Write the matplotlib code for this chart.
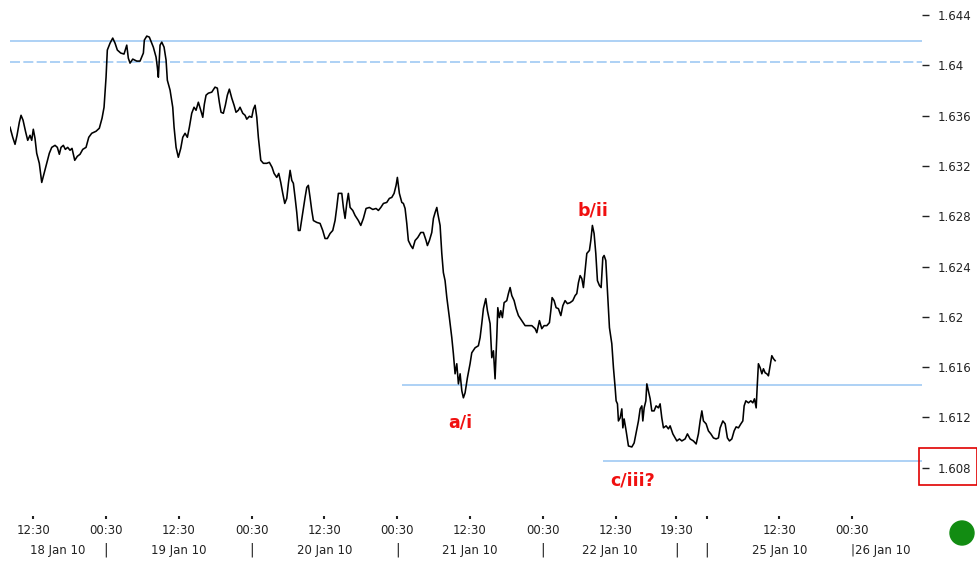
import matplotlib.pyplot as plt
import matplotlib.transforms as mtransforms
from matplotlib.patches import Rectangle, Ellipse

# --- data: hours on a gapless trading clock (18 Jan 00:00 = 0, weekend removed) ---
hours = [
    8.70, 9.15, 9.53, 9.86, 10.24, 10.52, 10.85, 11.29, 11.62, 12.00,
    12.28, 12.54, 12.82, 13.10, 13.53, 13.93, 14.31, 14.75, 15.18, 15.58,
    16.12, 16.50, 16.83, 17.11, 17.49, 17.82, 18.21, 18.59, 18.92, 19.37,
    19.80, 20.24, 20.69, 21.23, 21.68, 22.17, 22.88, 23.42, 23.87, 24.20,
    24.53, 24.74, 25.19, 25.63, 26.01, 26.39, 26.95, 27.49, 27.94, 28.20,
    28.48, 28.93, 29.59, 30.13, 30.68, 30.84, 31.24, 31.66,
    32.32, 32.77, 32.98, 33.15, 33.43, 33.71, 34.09, 34.42, 34.63, 35.08,
    35.52, 35.74, 36.07, 36.44, 36.84, 37.17, 37.55, 37.93, 38.26, 38.65,
    39.03, 39.36, 39.74, 40.14, 40.47, 40.73, 41.01, 41.39, 41.95, 42.49,
    42.87, 43.20, 43.48, 43.86, 44.19, 44.52, 44.85, 45.25, 45.63, 45.95,
    46.33, 46.61, 47.06, 47.44, 47.72, 48.15, 48.54, 48.81, 49.09, 49.37,
    49.63, 50.03, 50.46, 51.01, 51.44, 51.89, 52.22, 52.66, 52.99, 53.32,
    53.65, 53.98, 54.31, 54.58, 54.86, 55.14, 55.40, 55.68, 55.96, 56.22,
    56.50, 56.95, 57.33, 57.61, 57.87, 58.15, 58.43, 58.70, 59.26, 59.80,
    60.24, 60.62, 61.00, 61.45, 61.89, 62.27, 62.55, 62.82, 63.38, 63.64,
    63.92, 64.20, 64.46, 64.75, 65.19, 65.57, 66.11, 66.51, 66.94, 67.38,
    67.93, 68.49, 69.03, 69.41, 69.81, 70.24, 70.79, 71.22, 71.62, 72.00,
    72.33, 72.54, 72.87, 73.27, 73.53, 73.81, 74.09, 74.35, 74.75, 75.08,
    75.46, 75.90, 76.40, 76.83, 77.27, 77.49, 77.82, 78.21, 78.48, 78.76,
    79.04, 79.20,
    79.58, 79.86, 80.12, 80.40, 80.69, 81.11, 81.51, 81.77, 82.05, 82.33,
    82.60, 82.88, 83.16, 83.42, 83.70, 84.08, 84.52, 84.80, 85.35, 85.89,
    86.17, 86.45, 86.72, 87.11, 87.38, 87.82, 88.10, 88.37, 88.64, 88.92,
    89.09, 89.35, 89.58, 89.85, 90.13, 90.57, 90.84, 91.12, 91.40, 91.78,
    92.11, 92.49, 93.05, 93.59, 94.14, 94.70, 95.24, 95.52, 95.95, 96.34,
    96.72, 97.17, 97.60, 97.83, 98.04, 98.37, 98.70, 99.08, 99.48, 99.81,
    100.18, 100.56, 101.01, 101.45, 101.83, 102.11, 102.38, 102.66, 102.94, 103.20,
    103.48, 103.76, 104.19, 104.42, 104.68, 104.96, 105.24, 105.51, 105.84, 106.12,
    106.40, 106.61, 106.89, 107.16, 107.49, 107.88, 108.15, 108.43, 108.59,
    108.81, 108.97, 109.25, 109.53, 109.70, 109.91, 110.24, 110.62, 111.18, 111.56,
    111.89, 112.27, 112.55, 112.83, 112.99, 113.21, 113.49, 113.65, 113.91, 114.20,
    114.47, 114.85, 115.18, 115.56, 115.84, 116.12, 116.39, 116.83, 117.21, 117.49,
    117.94, 118.32, 118.60, 119.03, 119.42, 119.96, 120.34, 120.79, 121.33, 121.78,
    122.15, 122.44, 122.72, 122.98, 123.42, 123.80, 124.20, 124.63, 125.07, 125.45,
    125.73, 126.18, 126.56, 126.93, 127.27, 127.66, 128.04, 128.37, 128.75, 129.15,
    129.47, 129.69, 129.97, 130.40, 130.79, 131.12, 131.39, 131.67, 131.83, 132.04,
    132.33, 132.61, 132.87, 133.15, 133.43, 133.69, 133.97, 134.25, 134.52, 134.80,
]

price = [
    1.63508, 1.63428, 1.63372, 1.63444, 1.63548, 1.63603, 1.63564, 1.63468, 1.63404, 1.63444,
    1.63404, 1.63492, 1.63420, 1.63301, 1.63221, 1.63069, 1.63141, 1.63221, 1.63301, 1.63348,
    1.63364, 1.63348, 1.63293, 1.63348, 1.63364, 1.63332, 1.63348, 1.63325, 1.63340, 1.63245,
    1.63277, 1.63293, 1.63332, 1.63348, 1.63428, 1.63460, 1.63476, 1.63500, 1.63580, 1.63667,
    1.63906, 1.64122, 1.64177, 1.64217, 1.64177, 1.64122, 1.64098, 1.64090, 1.64161, 1.64058,
    1.64018, 1.64050, 1.64034, 1.64034, 1.64098, 1.64201, 1.64233, 1.64225,
    1.64145, 1.64066, 1.63986, 1.63906, 1.64161, 1.64185, 1.64145, 1.64042, 1.63882, 1.63803,
    1.63667, 1.63508, 1.63348, 1.63269, 1.63340, 1.63428, 1.63460, 1.63428, 1.63508, 1.63619,
    1.63667, 1.63643, 1.63707, 1.63643, 1.63587, 1.63691, 1.63763, 1.63779, 1.63787, 1.63827,
    1.63819, 1.63707, 1.63627, 1.63619, 1.63683, 1.63763, 1.63811, 1.63739, 1.63683, 1.63627,
    1.63643, 1.63667, 1.63619, 1.63603, 1.63572, 1.63595, 1.63587, 1.63651, 1.63683, 1.63587,
    1.63428, 1.63245, 1.63221, 1.63221, 1.63229, 1.63189, 1.63141, 1.63109, 1.63141, 1.63069,
    1.62982, 1.62902, 1.62942, 1.63062, 1.63165, 1.63085, 1.63062, 1.62950, 1.62830, 1.62687,
    1.62687, 1.62830, 1.62950, 1.63030, 1.63046, 1.62950, 1.62846, 1.62766, 1.62751, 1.62743,
    1.62687, 1.62623, 1.62623, 1.62663, 1.62687, 1.62766, 1.62870, 1.62982, 1.62982, 1.62870,
    1.62783, 1.62902, 1.62982, 1.62870, 1.62846, 1.62806, 1.62766, 1.62727, 1.62783, 1.62862,
    1.62870, 1.62854, 1.62862, 1.62846, 1.62870, 1.62902, 1.62910, 1.62942, 1.62950, 1.62982,
    1.63046, 1.63109, 1.62982, 1.62910, 1.62902, 1.62862, 1.62743, 1.62607, 1.62567, 1.62543,
    1.62607, 1.62631, 1.62671, 1.62671, 1.62607, 1.62567, 1.62607, 1.62671, 1.62783, 1.62830,
    1.62870, 1.62822,
    1.62727, 1.62504, 1.62352, 1.62288, 1.62153, 1.61994, 1.61834, 1.61707, 1.61547, 1.61627,
    1.61467, 1.61547, 1.61412, 1.61356, 1.61396, 1.61515, 1.61627, 1.61714, 1.61754, 1.61770,
    1.61834, 1.61946, 1.62065, 1.62145, 1.62049, 1.61946, 1.61675, 1.61730, 1.61507, 1.61834,
    1.62073, 1.61994, 1.62049, 1.61994, 1.62113, 1.62129, 1.62185, 1.62233, 1.62169, 1.62129,
    1.62065, 1.62010, 1.61970, 1.61930, 1.61930, 1.61930, 1.61906, 1.61874, 1.61970, 1.61906,
    1.61930, 1.61930, 1.61954, 1.62049, 1.62153, 1.62129, 1.62073, 1.62065, 1.62010, 1.62089,
    1.62129, 1.62105, 1.62113, 1.62129, 1.62169, 1.62185, 1.62272, 1.62328, 1.62304, 1.62233,
    1.62368, 1.62504, 1.62528, 1.62607, 1.62727, 1.62663, 1.62504, 1.62288, 1.62249, 1.62233,
    1.62472, 1.62488, 1.62448, 1.62209, 1.61914, 1.61786, 1.61595, 1.61436, 1.61332,
    1.61308, 1.61172, 1.61196, 1.61268, 1.61117, 1.61188, 1.61093, 1.60973, 1.60965, 1.60997,
    1.61077, 1.61172, 1.61268, 1.61292, 1.61172, 1.61276, 1.61332, 1.61467, 1.61412, 1.61348,
    1.61252, 1.61252, 1.61292, 1.61276, 1.61308, 1.61196, 1.61117, 1.61133, 1.61109, 1.61133,
    1.61069, 1.61037, 1.61013, 1.61029, 1.61013, 1.61029, 1.61069, 1.61029, 1.61013, 1.60989,
    1.61069, 1.61172, 1.61252, 1.61172, 1.61149, 1.61093, 1.61069, 1.61037, 1.61029, 1.61037,
    1.61117, 1.61172, 1.61149, 1.61037, 1.61013, 1.61029, 1.61093, 1.61125, 1.61117, 1.61149,
    1.61172, 1.61292, 1.61332, 1.61316, 1.61332, 1.61316, 1.61348, 1.61276, 1.61436, 1.61627,
    1.61595, 1.61547, 1.61587, 1.61555, 1.61547, 1.61531, 1.61611, 1.61691, 1.61667, 1.61651,
]

# horizontal levels: value and the hour they start from
level_values = [1.6419, 1.6146, 1.6085]
level_starts = [8.7, 73.3, 106.4]
dashed_level = 1.6403

# wave labels
wave_labels = ['a/i', 'b/ii', 'c/iii?']
wave_hours = [82.9, 104.7, 111.3]
wave_prices = [1.61157, 1.62846, 1.60695]

# axis ticks
ytick_values = [1.608, 1.612, 1.616, 1.620, 1.624, 1.628, 1.632, 1.636, 1.640, 1.644]
ytick_labels = ['1.608', '1.612', '1.616', '1.62', '1.624', '1.628', '1.632', '1.636', '1.64', '1.644']
xtick_hours = [12.5, 24.5, 36.5, 48.5, 60.5, 72.5, 84.5, 96.5, 108.5, 118.5, 123.5, 135.5, 147.5]
xtick_labels = ['12:30', '00:30', '12:30', '00:30', '12:30', '00:30', '12:30', '00:30',
                '12:30', '19:30', '', '12:30', '00:30']
day_labels = ['18 Jan 10', '19 Jan 10', '20 Jan 10', '21 Jan 10', '22 Jan 10', '25 Jan 10']
day_hours = [16.6, 36.5, 60.5, 84.5, 107.5, 135.5]
day_breaks = [24.5, 48.5, 72.5, 96.5, 118.5, 123.5]

x_min, x_max = 8.7, 159.0
y_min, y_max = 1.60416, 1.6452

level_color = '#9fc9f3'
text_color = '#222222'

fig = plt.figure(figsize=(9.78, 5.62), dpi=100)
ax = fig.add_axes([10 / 978, 46 / 562, 912 / 978, 516 / 562])

for v, s in zip(level_values, level_starts):
    ax.hlines(v, s, x_max, color=level_color, lw=1.2)
ax.hlines(dashed_level, x_min, x_max, color=level_color, lw=1.2, linestyles=(0, (6, 2)))

ax.plot(hours, price, color='black', lw=1.15)

for lab, h, p in zip(wave_labels, wave_hours, wave_prices):
    ax.text(h, p, lab, color='#f01010', fontsize=12.5, fontweight='bold', ha='center', va='center')

ax.set_xlim(x_min, x_max)
ax.set_ylim(y_min, y_max)
for s in ax.spines.values():
    s.set_visible(False)

ax.yaxis.tick_right()
ax.set_yticks(ytick_values)
ax.set_yticklabels(ytick_labels)
ax.tick_params(axis='y', length=5, width=1, pad=6, labelsize=8.5, colors=text_color)

ax.set_xticks(xtick_hours)
ax.set_xticklabels(xtick_labels)
ax.tick_params(axis='x', length=2, width=1.5, pad=4, labelsize=8.5, colors=text_color)

# second row: day names and day separators
trans = mtransforms.blended_transform_factory(ax.transData, ax.transAxes)
row_y = -0.066
for lab, h in zip(day_labels, day_hours):
    ax.text(h, row_y, lab, transform=trans, ha='center', va='center', fontsize=8.5, color=text_color)
for h in day_breaks:
    ax.text(h, row_y, '|', transform=trans, ha='center', va='center', fontsize=10, color=text_color)
ax.text(147.3, row_y, '|26 Jan 10', transform=trans, ha='left', va='center', fontsize=8.5, color=text_color)

# current-price marker box and status dot
fig.add_artist(Rectangle((919 / 978, 1 - 485 / 562), 58 / 978, 37 / 562, fill=False,
                         edgecolor='#e00000', lw=1.2, transform=fig.transFigure))
fig.add_artist(Ellipse((962 / 978, 1 - 533 / 562), 24 / 978, 24 / 562,
                       color='#128c12', transform=fig.transFigure))

fig.savefig('out.png', dpi=100)
